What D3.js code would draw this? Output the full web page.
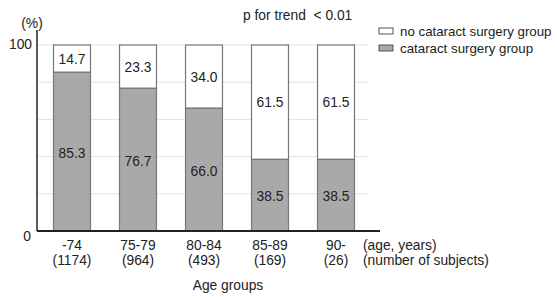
<!DOCTYPE html>
<html>
<head>
<meta charset="utf-8">
<script src="https://cdn.jsdelivr.net/npm/d3@7"></script>
<style>
  body { margin: 0; background: #fff; }
  text { font-family: "Liberation Sans", Arial, sans-serif; fill: #222; white-space: pre; }
</style>
</head>
<body>
<div id="chart"></div>
<script>
const ageGroups = ["-74", "75-79", "80-84", "85-89", "90-"];
const subjects = ["(1174)", "(964)", "(493)", "(169)", "(26)"];
const surgery = [85.3, 76.7, 66.0, 38.5, 38.5];
const noSurgery = [14.7, 23.3, 34.0, 61.5, 61.5];
const gridTicks = [20, 40, 60, 80, 100];

const width = 557, height = 297;
const fs = "13.8px";
const svg = d3.select("#chart").append("svg")
  .attr("width", width).attr("height", height);

let x = d3.scaleBand().domain(ageGroups).range([39, 369])
  .paddingInner(0.44).paddingOuter(0.22);
let y = d3.scaleLinear().domain([0, 100]).range([231, 45]);

// grid
svg.selectAll(".grid").data(gridTicks).enter().append("line")
  .attr("x1", 37).attr("x2", 368)
  .attr("y1", d => y(d)).attr("y2", d => y(d))
  .attr("stroke", "#e2e2e2").attr("stroke-width", 1);

// bars
let g = svg.selectAll(".bar").data(ageGroups).enter().append("g");
g.append("rect")
  .attr("x", d => x(d)).attr("width", x.bandwidth())
  .attr("y", y(100)).attr("height", (d, i) => y(surgery[i]) - y(100))
  .attr("fill", "#fff").attr("stroke", "#777").attr("stroke-width", 1.2);
g.append("rect")
  .attr("x", d => x(d)).attr("width", x.bandwidth())
  .attr("y", (d, i) => y(surgery[i])).attr("height", (d, i) => y(0) - y(surgery[i]))
  .attr("fill", "#a9a9a9").attr("stroke", "#777").attr("stroke-width", 1.2);
g.append("text")
  .attr("x", d => x(d) + x.bandwidth() / 2)
  .attr("y", (d, i) => (y(100) + y(surgery[i])) / 2 + 5)
  .attr("text-anchor", "middle").style("font-size", fs)
  .text((d, i) => noSurgery[i].toFixed(1));
g.append("text")
  .attr("x", d => x(d) + x.bandwidth() / 2)
  .attr("y", (d, i) => (y(0) + y(surgery[i])) / 2 + 6)
  .attr("text-anchor", "middle").style("font-size", fs)
  .text((d, i) => surgery[i].toFixed(1));

// axes
svg.append("line").attr("x1", 37).attr("x2", 37).attr("y1", 30).attr("y2", y(0))
  .attr("stroke", "#333").attr("stroke-width", 1.6);
svg.append("line").attr("x1", 37).attr("x2", 380).attr("y1", y(0)).attr("y2", y(0))
  .attr("stroke", "#222").attr("stroke-width", 1.8);

svg.append("text").attr("x", 32).attr("y", 49).attr("text-anchor", "end")
  .style("font-size", fs).text("100");
svg.append("text").attr("x", 31).attr("y", 241).attr("text-anchor", "end")
  .style("font-size", fs).text("0");
svg.append("text").attr("x", 32).attr("y", 28).attr("text-anchor", "middle")
  .style("font-size", fs).text("(%)");

// x labels
svg.selectAll(".xl").data(ageGroups).enter().append("text")
  .attr("x", d => x(d) + x.bandwidth() / 2).attr("y", 250)
  .attr("text-anchor", "middle").style("font-size", fs).text(d => d);
svg.selectAll(".xs").data(subjects).enter().append("text")
  .attr("x", (d, i) => x(ageGroups[i]) + x.bandwidth() / 2).attr("y", 265)
  .attr("text-anchor", "middle").style("font-size", fs).text(d => d);
svg.append("text").attr("x", 363).attr("y", 250).style("font-size", fs).text("(age, years)");
svg.append("text").attr("x", 363).attr("y", 265).style("font-size", fs).text("(number of subjects)");
svg.append("text").attr("x", 228).attr("y", 290).attr("text-anchor", "middle")
  .style("font-size", fs).text("Age groups");

svg.append("text").attr("x", 243).attr("y", 20).style("font-size", fs).text("p for trend  < 0.01");

// legend
const legend = [["no cataract surgery group", "#fff"], ["cataract surgery group", "#a9a9a9"]];
let lg = svg.selectAll(".lg").data(legend).enter().append("g")
  .attr("transform", (d, i) => "translate(379," + (28 + i * 17) + ")");
lg.append("rect").attr("width", 14).attr("height", 6).attr("y", 0)
  .attr("fill", d => d[1]).attr("stroke", "#555").attr("stroke-width", 1);
lg.append("text").attr("x", 21).attr("y", 8).style("font-size", "13.3px").text(d => d[0]);
</script>
</body>
</html>
